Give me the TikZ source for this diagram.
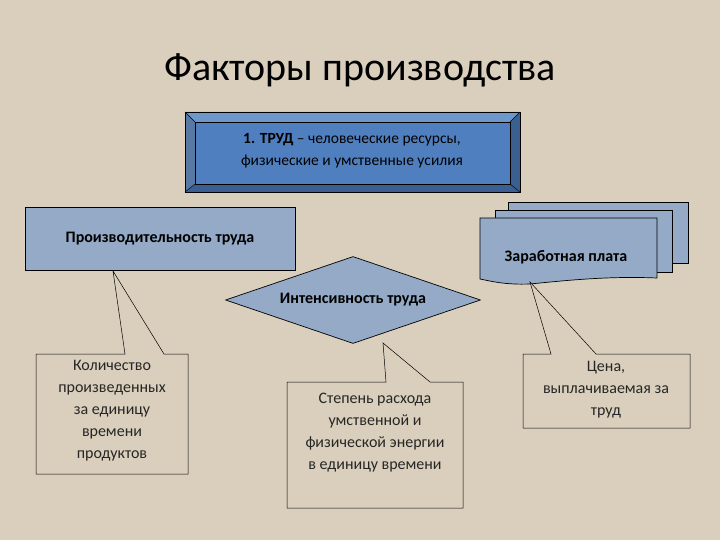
\documentclass[tikz,border=0pt]{standalone}
\usepackage{fontspec}
\setmainfont{Carlito}
\usetikzlibrary{shapes.geometric}
\definecolor{bg}{HTML}{D9CFBC}
\definecolor{boxblue}{HTML}{4F7FBE}
\definecolor{bevdark}{HTML}{3A5F90}
\definecolor{bevlight}{HTML}{6E97CC}
\definecolor{grayblue}{HTML}{95AAC6}
\tikzset{
  gbshape/.style={draw=black, fill=grayblue, line width=0.7pt},
  callout/.style={draw=black, line width=0.5pt, fill=bg},
  ctext/.style={align=center, font=\fontsize{16}{22}\selectfont, text=black!85},
  btext/.style={font=\bfseries\fontsize{16}{18}\selectfont}
}
\begin{document}
\begin{tikzpicture}[x=1pt,y=-1pt]
\fill[bg] (0,0) rectangle (720,540);
\useasboundingbox (0,0) rectangle (720,540);
\node (title) at (360,70) {\fontsize{40}{44}\selectfont Факторы производства};
% bevel box
\fill[bevdark] (185,112) rectangle (520,192);
\fill[bevlight] (185,112) -- (520,112) -- (510,122) -- (195,122) -- cycle;
\fill[bevlight!80!black] (185,112) -- (195,122) -- (195,184) -- (185,192) -- cycle;
\fill[boxblue] (195,122) rectangle (510,184);
\draw[line width=0.7pt] (185,112) rectangle (520,192);
\draw[line width=0.4pt] (195,122) rectangle (510,184);
\draw[line width=0.4pt] (185,112) -- (195,122) (520,112) -- (510,122) (185,192) -- (195,184) (520,192) -- (510,184);
\node[align=center, font=\fontsize{15.5}{22}\selectfont] (trud) at (352,151) {\textbf{1. ТРУД} – человеческие ресурсы,\\ физические и умственные усилия};
% left box
\node[gbshape, minimum width=270pt, minimum height=63pt, btext] (prod) at (160,238.5) {Производительность труда};
% multidoc
\draw[gbshape] (508,202) rectangle (688,263);
\draw[gbshape] (495,210) rectangle (672,272);
\draw[gbshape] (480,218) -- (657,218) -- (657,278) .. controls (610,276) and (570,280) .. (530,284) .. controls (505,285) and (490,281) .. (480,279) -- cycle;
\node[btext] (wage) at (566,257) {Заработная плата};
% diamond
\node[gbshape, diamond, minimum width=255pt, minimum height=87pt, inner sep=0pt, aspect=3] (int) at (353,300) {};
\node[btext] (intt) at (int.center) {Интенсивность труда};
% callouts
\draw[callout] (36,354) -- (125,354) -- (113,271) -- (164,354) -- (188,354) -- (188,474) -- (36,474) -- cycle;
\node[ctext] (qty) at (112,411) {Количество\\ произведенных\\ за единицу\\ времени\\ продуктов};
\draw[callout] (287,382) -- (386,382) -- (383,343) -- (430,382) -- (463,382) -- (463,508) -- (287,508) -- cycle;
\node[ctext] (deg) at (375,433) {Степень расхода\\ умственной и\\ физической энергии\\ в единицу времени};
\draw[callout] (523,354) -- (551,354) -- (530,282) -- (596,354) -- (690,354) -- (690,428) -- (523,428) -- cycle;
\node[ctext] (price) at (606,390) {Цена,\\ выплачиваемая за\\ труд};
\end{tikzpicture}
\end{document}
